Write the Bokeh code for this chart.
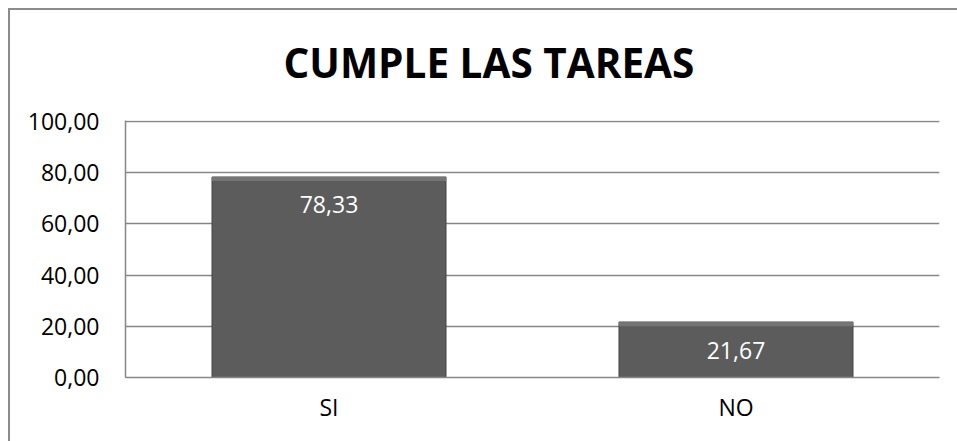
from bokeh.plotting import figure
from bokeh.models import ColumnDataSource, CustomJSTickFormatter, FixedTicker
from bokeh.core.properties import value
from bokeh.embed import file_html
from bokeh.resources import INLINE

# ---- data ----
categories = ["SI", "NO"]
values = [78.33, 21.67]
y_ticks = [0, 20, 40, 60, 80, 100]
title_text = "CUMPLE LAS TAREAS"

labels = [f"{v:.2f}".replace(".", ",") for v in values]
src = ColumnDataSource(dict(cat=categories, val=values, lab=labels,
                            bev=[v - 1.6 for v in values]))

FONT = "Open Sans"
GRID = "#868686"

p = figure(
    x_range=categories, y_range=(0, 100.4),
    width=957, height=441,
    output_backend="svg", toolbar_location=None,
    min_border_left=125, min_border_right=18,
    min_border_top=120, min_border_bottom=64,
)
p.title.text = title_text
p.title.text_font = FONT
p.title.text_font_style = "bold"
p.title.text_font_size = "40.5px"
p.title.text_color = "black"
p.title.align = "left"
p.title.offset = 158
p.title.standoff = 62

p.border_fill_color = None
p.background_fill_color = "white"
p.outline_line_color = None
p.styles = {"box-shadow": "inset 8px 8px 0 0 white, inset 10px 10px 0 0 #8c8c8c"}
p.x_range.range_padding = 0

# bars
p.vbar(x="cat", top="val", width=0.575, source=src,
       fill_color="#5c5c5c", line_color="#444444", line_width=1)
# bevel highlight at bar top
p.vbar(x="cat", top="val", bottom="bev", width=0.575, source=src,
       fill_color="#747474", line_color=None)

# value labels
p.text(x="cat", y="val", text="lab", source=src,
       text_color="white", text_font=value(FONT),
       text_font_size="23px", text_align="center", text_baseline="middle",
       y_offset=28)

# axes
p.yaxis.ticker = FixedTicker(ticks=y_ticks)
p.yaxis.formatter = CustomJSTickFormatter(code="return tick.toFixed(2).replace('.', ',');")
for ax in (p.xaxis[0], p.yaxis[0]):
    ax.major_label_text_font = FONT
    ax.major_label_text_font_size = "23px"
    ax.major_label_text_color = "black"
    ax.axis_line_color = GRID
    ax.axis_line_width = 1.5
    ax.major_tick_out = 0
    ax.major_tick_in = 0
    ax.minor_tick_out = 0
    ax.minor_tick_in = 0
p.yaxis.major_label_standoff = 26
p.xaxis.major_label_standoff = 13

p.xgrid.grid_line_color = None
p.ygrid.grid_line_color = GRID
p.ygrid.grid_line_width = 1.5
p.ygrid.ticker = FixedTicker(ticks=y_ticks)

open("out.html", "w").write(file_html(p, INLINE))
